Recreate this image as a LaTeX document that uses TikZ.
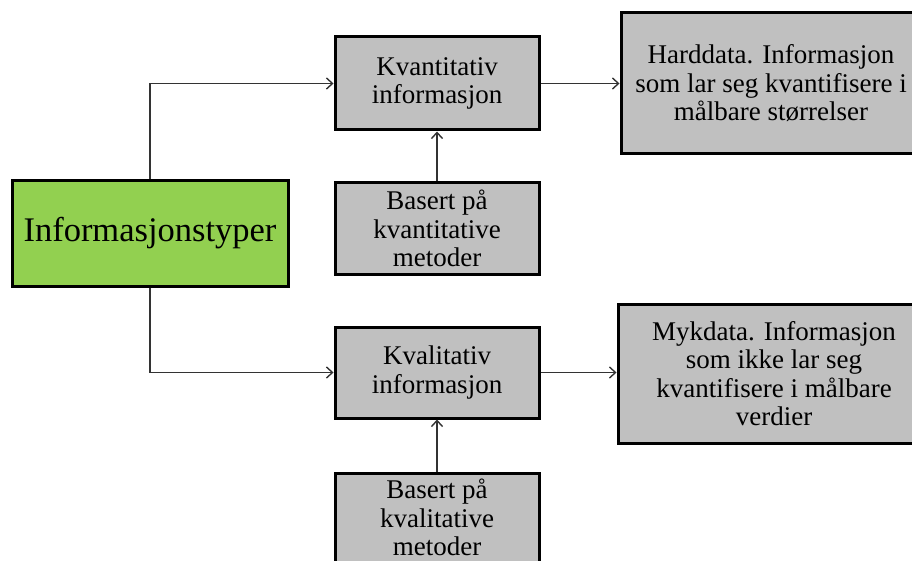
\documentclass[tikz,border=0pt]{standalone}
\usepackage{fontspec}
\setmainfont{Liberation Serif}
\usetikzlibrary{arrows.meta}
\definecolor{boxgreen}{HTML}{92D050}
\definecolor{boxgray}{HTML}{C0C0C0}
\definecolor{linegray}{HTML}{333333}
\tikzset{
  box/.style={draw=black, line width=3pt, fill=boxgray, align=center,
    font=\fontsize{27}{28.5}\selectfont, inner sep=0pt},
  mainbox/.style={box, fill=boxgreen, font=\fontsize{34.5}{38}\selectfont},
  link/.style={draw=linegray, line width=1.4pt,
    -{Straight Barb[length=6pt,width=11pt,line width=1.4pt]}},
}
\begin{document}
\begin{tikzpicture}[x=1pt,y=-1pt]
  \useasboundingbox (0,0) rectangle (912,561);
  \clip (0,0) rectangle (912,561);
  \fill[white] (0,0) rectangle (912,561);

  % main category
  \node[mainbox, minimum width=276pt, minimum height=105pt] (types) at (150,233.5) {Informasjonstyper};

  % quantitative branch
  \node[box, minimum width=204pt, minimum height=93pt] (kvant) at (437,83.5) {Kvantitativ\\informasjon};
  \node[box, minimum width=204pt, minimum height=91pt] (kvantmet) at (437,228.5) {Basert på\\kvantitative\\metoder};
  \node[box, minimum width=300pt, minimum height=141pt] (hard) at (771,83.5) {Harddata. Informasjon\\som lar seg kvantifisere i\\målbare størrelser};

  % qualitative branch
  \node[box, minimum width=204pt, minimum height=91pt] (kval) at (437,372.5) {Kvalitativ\\informasjon};
  \node[box, minimum width=204pt, minimum height=89pt] (kvalmet) at (437,517.5) {Basert på\\kvalitative\\metoder};
  \node[box, minimum width=312pt, minimum height=139pt] (myk) at (774,373.5) {Mykdata. Informasjon\\som ikke lar seg\\kvantifisere i målbare\\verdier};

  % connectors
  \draw[link] (types.north) |- (kvant.west);
  \draw[link] (types.south) |- (kval.west);
  \draw[link] (kvant.east) -- (kvant.east -| hard.west);
  \draw[link] (kval.east) -- (kval.east -| myk.west);
  \draw[link] (kvantmet.north) -- (kvant.south);
  \draw[link] (kvalmet.north) -- (kval.south);
\end{tikzpicture}
\end{document}
